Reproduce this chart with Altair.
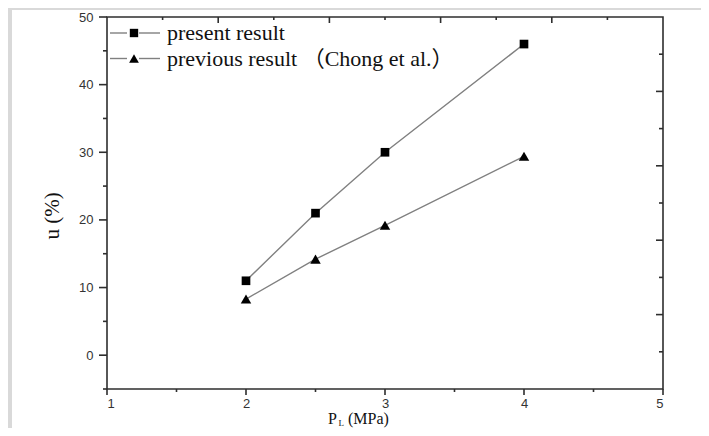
import altair as alt
import pandas as pd

# ---- data ----
p_values = [2.0, 2.5, 3.0, 4.0]
present_u = [11.0, 21.0, 30.0, 46.0]
previous_u = [8.3, 14.2, 19.2, 29.4]
series_names = ["present result", "previous result （Chong et al.）"]
series_shapes = ["square", "triangle-up"]

x_major = [1, 2, 3, 4, 5]
x_minor = [1.5, 2.5, 3.5, 4.5]
y_major = [0, 10, 20, 30, 40, 50]
y_minor = [-5, 5, 15, 25, 35, 45]
top_major = [1.8, 2.6, 3.4, 4.2]
top_minor = [1.4, 2.2, 3.0, 3.8, 4.6]
right_major = [6.0, 17.0, 28.0, 39.0]
right_minor = [0.5, 11.5, 22.5, 33.5, 44.5]

# ---- layout ----
W, H = 556, 372
AX = "#2e2e2e"
LINE = "#808080"
SERIF = "Liberation Serif, 'Noto Sans CJK SC', serif"
SANS = "Liberation Sans, Arial, sans-serif"

df = pd.DataFrame({
    "P": p_values * 2,
    "u": present_u + previous_u,
    "series": [series_names[0]] * len(p_values) + [series_names[1]] * len(p_values),
})
one = pd.DataFrame({"k": [0]})

xs = alt.Scale(domain=[1, 5], nice=False, zero=False)
ys = alt.Scale(domain=[-5, 50], nice=False, zero=False)

x_axis = alt.Axis(values=x_major, format="d", title=None, ticks=False, tickSize=0,
                  labelPadding=8, labelBaseline="top")
y_axis = alt.Axis(values=y_major, format="d", title=None, ticks=False, tickSize=0,
                  labelPadding=14)


def X():
    return alt.X("P:Q", scale=xs, axis=x_axis)


def Y():
    return alt.Y("u:Q", scale=ys, axis=y_axis)


lines = alt.Chart(df).mark_line(color=LINE, strokeWidth=1.4).encode(
    x=X(), y=Y(), detail="series:N",
)
points = alt.Chart(df).mark_point(filled=True, color="black", opacity=1).encode(
    x=X(), y=Y(),
    shape=alt.Shape("series:N", scale=alt.Scale(domain=series_names, range=series_shapes), legend=None),
    size=alt.Size("series:N", scale=alt.Scale(domain=series_names, range=[75, 110]), legend=None),
)


def xticks(vals, y1, y2):
    return alt.Chart(pd.DataFrame({"P": vals})).mark_rule(color=AX, strokeWidth=1.6).encode(
        x=X(), y=alt.value(y1), y2=alt.value(y2))


def yticks(vals, x1, x2):
    return alt.Chart(pd.DataFrame({"u": vals})).mark_rule(color=AX, strokeWidth=1.6).encode(
        y=Y(), x=alt.value(x1), x2=alt.value(x2))


def text(t, x, y, size, font=SERIF, angle=0, align="left", baseline="alphabetic"):
    return alt.Chart(one).mark_text(
        text=t, fontSize=size, font=font, angle=angle, align=align,
        baseline=baseline, color="#111",
    ).encode(x=alt.value(x), y=alt.value(y))


def hseg(x1, x2, y, color=LINE, w=1.4):
    return alt.Chart(one).mark_rule(color=color, strokeWidth=w).encode(
        x=alt.value(x1), x2=alt.value(x2), y=alt.value(y))


def band(x1, x2, y1, y2):
    return alt.Chart(one).mark_rect(color="#d9d9d9").encode(
        x=alt.value(x1), x2=alt.value(x2), y=alt.value(y1), y2=alt.value(y2))


ticks = [
    xticks(x_major, H, H + 6), xticks(x_minor, H, H + 3),
    yticks(y_major, -8, 0), yticks(y_minor, -4, 0),
    xticks(top_major, 0, 6), xticks(top_minor, 0, 3),
    yticks(right_major, W - 7, W), yticks(right_minor, W - 4, W),
]

legend_rows = [16, 41.5]
legend_sizes = [70, 95]
legend_layers = []
for name, shape, ry, sz in zip(series_names, series_shapes, legend_rows, legend_sizes):
    legend_layers += [
        hseg(3, 20, ry),
        hseg(32, 53, ry),
        alt.Chart(one).mark_point(shape=shape, filled=True, color="black", opacity=1, size=sz).encode(
            x=alt.value(27), y=alt.value(ry)),
        text(name, 60, ry, 22, baseline="middle"),
    ]

frame = [
    band(-99, 594, -9, -7),
    band(-99, -95, -9, 411),
]

titles = [
    text("u (%)", -54, 199, 21, angle=270, align="center", baseline="middle"),
    text("P", 221, 407, 16),
    text("L", 231.5, 409, 9),
    text("(MPa)", 241, 407, 16),
]

chart = alt.layer(
    lines, points,
    *ticks,
    *frame,
    *legend_layers,
    *titles,
).properties(
    width=W, height=H,
    padding={"left": 99, "top": 9, "right": 38, "bottom": 39},
    autosize=alt.AutoSizeParams(type="none"),
    background="white",
).configure_view(
    stroke=AX, strokeWidth=1.6
).configure_axis(
    domain=False, grid=False, labelFont=SANS, labelFontSize=13, labelColor="#333",
)

chart.save("out.html", embed_options={"renderer": "svg", "actions": False})
